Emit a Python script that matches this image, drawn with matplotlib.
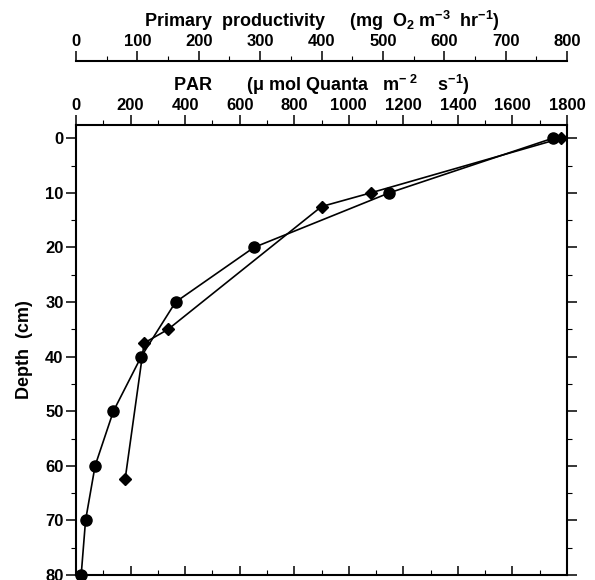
import matplotlib
matplotlib.use("Agg")
import matplotlib.pyplot as plt
from matplotlib.ticker import MultipleLocator

plt.rcParams['font.family'] = ['Liberation Sans', 'DejaVu Sans']
plt.rcParams['font.weight'] = 'bold'
plt.rcParams['mathtext.fontset'] = 'custom'
plt.rcParams['mathtext.rm'] = 'Liberation Sans:bold'
plt.rcParams['mathtext.bf'] = 'Liberation Sans:bold'
plt.rcParams['mathtext.default'] = 'regular'

# PAR profile (circles)
par_depth = [0, 10, 20, 30, 40, 50, 60, 70, 80]
par_value = [1747, 1148, 652, 365, 239, 137, 70, 35, 19]

# primary productivity profile (diamonds)
pp_depth = [0, 10, 12.5, 35, 37.5, 62.5]
pp_value = [790, 480, 400, 150, 111, 80]

fig = plt.figure(figsize=(5.95, 5.8), dpi=100)
ax = fig.add_axes([76/595, 5/580, 491/595, 450/580])
# twins first (twiny moves the parent's ticks to the bottom)
axb = ax.twiny()
ax2 = ax.twiny()

ax.plot(par_value, par_depth, 'k-', marker='o', ms=8, lw=1.2, clip_on=False, zorder=3)
ax.set_xlim(0, 1800)
ax.set_ylim(80, -2.44)
for s in ax.spines.values():
    s.set_linewidth(1.5)

ax.xaxis.set_major_locator(MultipleLocator(200))
ax.xaxis.set_minor_locator(MultipleLocator(100))
ax.xaxis.set_ticks_position('top')
ax.xaxis.set_label_position('top')
ax.tick_params(axis='x', which='both', direction='out', top=True, bottom=False,
               labeltop=True, labelbottom=False, labelsize=12, pad=1.5, width=1.1)
ax.tick_params(axis='x', which='major', length=7.2)
ax.tick_params(axis='x', which='minor', length=3.6, width=0.8)
ax.set_xlabel(r'PAR       (μ mol Quanta   m$^{-\ 2}$    s$^{-1}$)', fontsize=13,
              fontweight='bold', labelpad=5)

ax.yaxis.set_major_locator(MultipleLocator(10))
ax.yaxis.set_minor_locator(MultipleLocator(5))
ax.tick_params(axis='y', which='both', direction='out', left=True, right=True,
               labelright=False, labelsize=12, pad=2, width=1.1)
ax.tick_params(axis='y', which='major', length=7)
ax.tick_params(axis='y', which='minor', length=3.6, width=0.8)
ax.set_ylabel('Depth  (cm)', fontsize=13, fontweight='bold', labelpad=9)

# bottom ticks pointing inward
axb.set_xlim(0, 1800)
axb.xaxis.set_major_locator(MultipleLocator(200))
axb.xaxis.set_minor_locator(MultipleLocator(100))
axb.xaxis.set_ticks_position('bottom')
axb.tick_params(axis='x', which='both', direction='in', labelbottom=False, labeltop=False, width=1.1)
axb.tick_params(axis='x', which='major', length=6.5)
axb.tick_params(axis='x', which='minor', length=3.6, width=0.8)
for s in axb.spines.values():
    s.set_visible(False)

# primary productivity axis on top
ax2.plot(pp_value, pp_depth, 'k-', marker='D', ms=6.5, lw=1.2, clip_on=False, zorder=3)
ax2.set_xlim(0, 800)
for name in ['left', 'right', 'bottom']:
    ax2.spines[name].set_visible(False)
ax2.spines['top'].set_position(('outward', 46))
ax2.spines['top'].set_linewidth(1.5)
ax2.xaxis.set_major_locator(MultipleLocator(100))
ax2.xaxis.set_minor_locator(MultipleLocator(50))
ax2.tick_params(axis='x', which='both', direction='out', labelsize=12, pad=1.5, width=1.1)
ax2.tick_params(axis='x', which='major', length=7.2)
ax2.tick_params(axis='x', which='minor', length=3.6, width=0.8)
ax2.set_xlabel(r'Primary  productivity     (mg  O$_{2}$ m$^{-3}$  hr$^{-1}$)', fontsize=13,
               fontweight='bold', labelpad=5)

fig.savefig('out.png', dpi=100)
